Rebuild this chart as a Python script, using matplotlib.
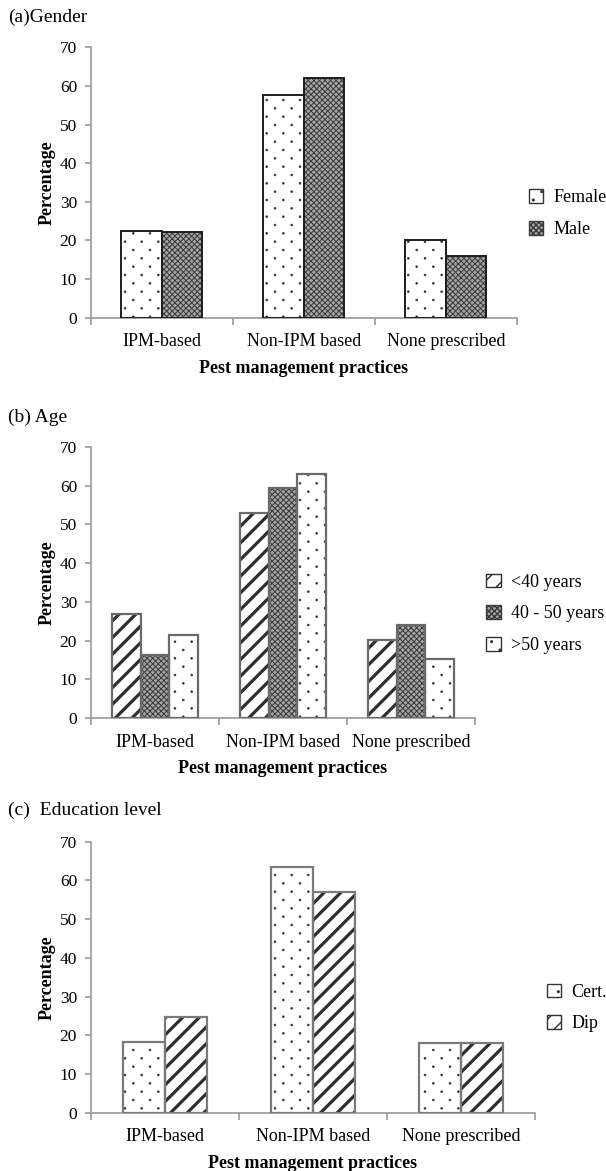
"""Pest management practices by gender, age and education level (three panels)."""

import matplotlib
matplotlib.use("Agg")
import matplotlib as mpl
import numpy as np
from matplotlib import hatch as mhatch
from matplotlib import pyplot as plt
from matplotlib.patches import Patch

plt.rcParams["font.family"] = ["Liberation Serif", "DejaVu Serif"]

categories = ["IPM-based", "Non-IPM based", "None prescribed"]

gender_groups = ["Female", "Male"]
gender_female = [22.4, 57.6, 20.2]
gender_male = [22.2, 62.0, 15.9]

age_groups = ["<40 years", "40 - 50 years", ">50 years"]
age_under40 = [26.9, 52.8, 20.2]
age_40to50 = [16.3, 59.4, 24.0]
age_over50 = [21.5, 63.1, 15.2]

edu_groups = ["Cert.", "Dip"]
edu_cert = [18.3, 63.4, 18.1]
edu_dip = [24.8, 57.1, 18.1]


class SparseDots(mhatch.SmallFilledCircles):
    """Office-style dotted fill: dots in a row twice as far apart as the rows."""

    def __init__(self, hatch, density):
        super().__init__(hatch, density)
        n = self.num_rows
        self._cols = max(n // 2, 1)
        if n:
            m = self._cols
            self.num_shapes = (n // 2 + 1) * (m + 1) + ((n + 1) // 2) * m
            self.num_vertices = self.num_shapes * len(self.shape_vertices)

    def get_vertices_and_codes(self, vertices, codes):
        n, m = self.num_rows, self._cols
        shape = self.shape_vertices * self.size / n
        verts, cods = [], []
        for row in range(n + 1):
            if row % 2 == 0:
                cols = np.linspace(0, 1, m + 1)
            else:
                cols = np.linspace(0.5 / m, 1 - 0.5 / m, m)
            for c in cols:
                verts.append(shape + [c, row / n])
                cods.append(self.shape_codes)
        np.concatenate(verts, out=vertices)
        np.concatenate(cods, out=codes)

    set_vertices_and_codes = get_vertices_and_codes


mhatch._hatch_types = [SparseDots if t is mhatch.SmallFilledCircles else t
                       for t in mhatch._hatch_types]

# fill styles: (hatch, face, hatch colour, hatch linewidth)
DOTS = ("..", "white", "#333333", 0.6)
CHECK = ("xxxxxx", "#a4a4a4", "#3a3a3a", 0.7)
STRIPES = ("//", "white", "#2e2e2e", 2.3)

AXIS_GREY = "#9a9a9a"


def draw_panel(fig, rect, title, title_y, groups, series, styles, edge, leg_xy):
    ax = fig.add_axes(rect)
    n = len(series)
    width = 1.0 / (n + 1.5)
    x = np.arange(len(categories))
    handles = []
    for i, (name, values, style) in enumerate(zip(groups, series, styles)):
        hatch, face, hcol, hlw = style
        pos = x + (i - (n - 1) / 2) * width
        with mpl.rc_context({"hatch.linewidth": hlw}):
            bars = ax.bar(pos, values, width, color=face, edgecolor=hcol,
                          linewidth=0, hatch=hatch, zorder=2)
            for b in bars:
                if hasattr(b, "set_hatch_linewidth"):
                    b.set_hatch_linewidth(hlw)
            ax.bar(pos, values, width, fill=False, edgecolor=edge[0],
                   linewidth=edge[1], zorder=3)
            h = Patch(facecolor=face, edgecolor=hcol, hatch=hatch, linewidth=1.0)
            if hasattr(h, "set_hatch_linewidth"):
                h.set_hatch_linewidth(hlw)
        handles.append(h)

    ax.set_xlim(-0.5, 2.5)
    ax.set_ylim(0, 70)
    ax.set_yticks(range(0, 71, 10))
    ax.set_xticks(x)
    ax.set_xticklabels(categories, fontsize=13)
    ax.set_xticks(np.arange(-0.5, 2.6, 1.0), minor=True)
    ax.tick_params(axis="x", which="major", length=0, pad=11)
    ax.tick_params(axis="x", which="minor", length=5, width=1.2,
                   color=AXIS_GREY, direction="out")
    ax.tick_params(axis="y", length=4, width=1.2, color=AXIS_GREY,
                   labelsize=12.5, pad=6)
    for side in ("top", "right"):
        ax.spines[side].set_visible(False)
    for side in ("left", "bottom"):
        ax.spines[side].set_color(AXIS_GREY)
        ax.spines[side].set_linewidth(1.2)
    ax.set_xlabel("Pest management practices", fontsize=13, fontweight="bold",
                  labelpad=7)
    ax.set_ylabel("Percentage", fontsize=13, fontweight="bold", labelpad=3)

    ax.legend(handles, groups, loc="center left", bbox_to_anchor=leg_xy,
              frameon=False, fontsize=13, handlelength=0.8, handleheight=0.8,
              handletextpad=0.55, labelspacing=0.8, borderpad=0,
              borderaxespad=0)
    fig.text(8 / 606, 1 - title_y / 1171, title, fontsize=14, va="center")
    return ax


fig = plt.figure(figsize=(6.06, 11.71), dpi=100)

draw_panel(fig, [0.150, 0.7287, 0.703, 0.2309], "(a)Gender", 17,
           gender_groups, [gender_female, gender_male], [DOTS, CHECK],
           ("#1e1e1e", 1.4), (1.028, 0.385))
draw_panel(fig, [0.150, 0.3866, 0.634, 0.2319], "(b) Age", 417,
           age_groups, [age_under40, age_40to50, age_over50],
           [STRIPES, CHECK, DOTS], ("#6a6a6a", 1.6), (1.029, 0.385))
draw_panel(fig, [0.150, 0.0498, 0.733, 0.2314], "(c)  Education level", 810,
           edu_groups, [edu_cert, edu_dip], [DOTS, STRIPES],
           ("#7a7a7a", 1.6), (1.026, 0.386))

fig.savefig("out.png", dpi=100)
plt.close(fig)
